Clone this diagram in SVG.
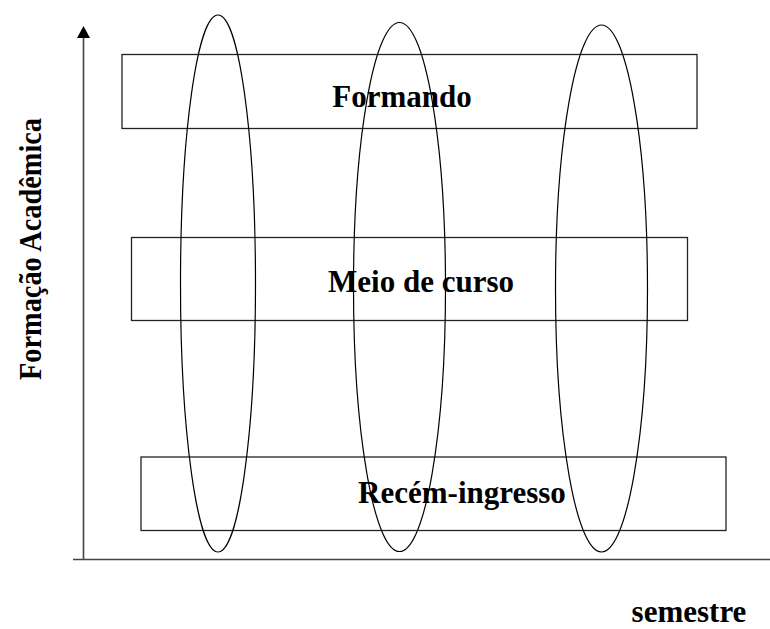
<svg xmlns="http://www.w3.org/2000/svg" width="770" height="629" viewBox="0 0 770 629">
<defs>
<style>
.box{fill:none;stroke:#222;stroke-width:1.3}
.ell{fill:none;stroke:#000;stroke-width:1.2}
.axis{fill:none;stroke:#444;stroke-width:1.6}
.lbl{font-family:"Liberation Serif","Times New Roman",serif;font-weight:bold;font-size:31px;fill:#000}
</style>
</defs>
<rect width="770" height="629" fill="#fff"/>
<g id="connectors">
<line class="axis" x1="83.5" y1="560" x2="83.5" y2="36"/>
<polygon points="83.5,26 77,38 90,38" fill="#000"/>
<line class="axis" x1="73" y1="559.5" x2="770" y2="559.5"/>
</g>
<g id="formando">
<rect class="box" x="122" y="54.5" width="575" height="74"/>
<text class="lbl" x="402" y="107" text-anchor="middle">Formando</text>
</g>
<g id="meio">
<rect class="box" x="131.5" y="237.5" width="556" height="83"/>
<text class="lbl" x="421" y="292" text-anchor="middle">Meio de curso</text>
</g>
<g id="recem">
<rect class="box" x="141" y="457" width="585" height="73.5"/>
<text class="lbl" x="462" y="503" text-anchor="middle">Recém-ingresso</text>
</g>
<g id="sem1"><ellipse class="ell" cx="218" cy="283.5" rx="37.5" ry="268.5"/></g>
<g id="sem2"><ellipse class="ell" cx="399.5" cy="287" rx="46" ry="264.5"/></g>
<g id="sem3"><ellipse class="ell" cx="601.5" cy="288.5" rx="46" ry="263.5"/></g>
<g id="y-label"><text class="lbl" transform="translate(41,380) rotate(-90)" textLength="262" lengthAdjust="spacingAndGlyphs">Formação Acadêmica</text></g>
<g id="x-label"><text class="lbl" x="689" y="622" text-anchor="middle">semestre</text></g>
</svg>
